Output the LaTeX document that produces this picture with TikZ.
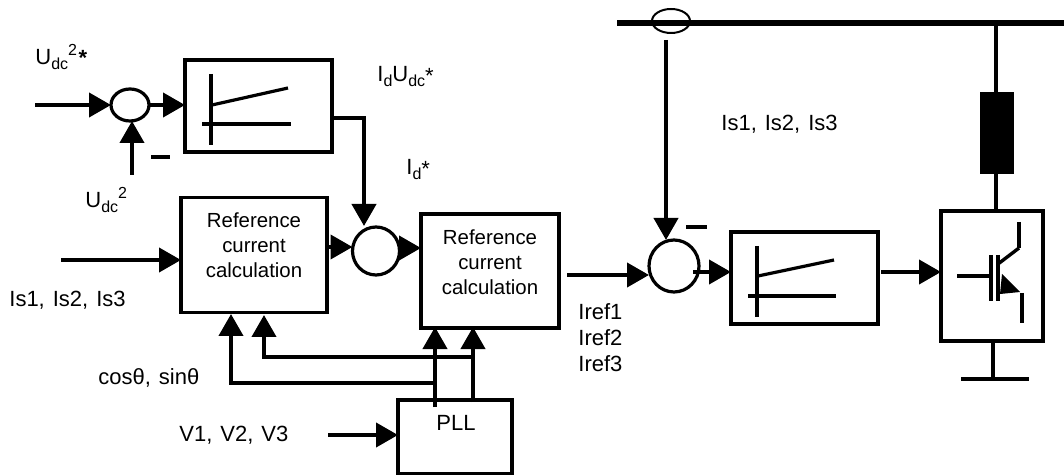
\documentclass[tikz,border=0pt]{standalone}
\usepackage{fontspec}
\setmainfont{Liberation Sans}
\usepackage{tikz}
\usetikzlibrary{arrows.meta, shapes.geometric}
\newcommand{\labfont}{\fontsize{11}{13}\selectfont\spaceskip=4pt\relax}
\tikzset{
	sig/.style={line width=2pt, -{Triangle[length=11pt, width=12pt]}},
	wire/.style={line width=2pt},
	block/.style={draw, line width=1.7pt, rectangle, inner sep=0pt, outer sep=0pt},
	sumnode/.style={draw, line width=1.6pt, ellipse, inner sep=0pt, outer sep=0pt},
	lab/.style={font=\labfont, inner sep=0pt, anchor=west},
	boxlab/.style={font=\fontsize{10.2}{12.4}\selectfont, inner sep=0pt, align=center}
}
\newcommand{\dcsub}{\raisebox{-2.5pt}{\fontsize{8}{9}\selectfont dc}}
\newcommand{\dsub}{\raisebox{-2.5pt}{\fontsize{8}{9}\selectfont d}}
\newcommand{\upidx}[1]{\raisebox{4.5pt}{\fontsize{8}{9}\selectfont #1}}
\begin{document}
\begin{tikzpicture}[x=0.5pt, y=-0.5pt]
	\useasboundingbox (0,0) rectangle (1064,475);
	% --- outer loop blocks ---
	\node[sumnode, minimum width=19pt, minimum height=16pt] (sumdc) at (130,105) {};
	\node[block, minimum width=73.5pt, minimum height=46pt] (pidc) at (258.5,106) {};
	\node[block, minimum width=73pt, minimum height=57.5pt] (refa) at (254,255) {};
	\node[boxlab] (refatxt) at (254,245) {Reference\\current\\calculation};
	\node[sumnode, minimum width=23.5pt, minimum height=24pt] (sumid) at (376,251) {};
	\node[block, minimum width=69pt, minimum height=57pt] (refb) at (490,271) {};
	\node[boxlab] (refbtxt) at (490,262) {Reference\\current\\calculation};
	\node[block, minimum width=57pt, minimum height=37pt] (pll) at (455,437) {};
	\node[boxlab, font=\fontsize{11}{13}\selectfont] (plltxt) at (456,423) {PLL};
	
	% --- inner loop blocks ---
	\node[sumnode, minimum width=25pt, minimum height=26pt] (sumi) at (674,266) {};
	\node[block, minimum width=73.5pt, minimum height=46pt] (pii) at (804.5,278) {};
	\node[block, minimum width=51pt, minimum height=65pt] (igbt) at (992,276) {};
	\node[sumnode, line width=1pt, minimum width=19pt, minimum height=12pt] (ct) at (671,21) {};
	
	% --- free ends ---
	\coordinate (dcin) at (35,105);
	\coordinate (dcfb) at (132,175);
	\coordinate (isin) at (61,260);
	\coordinate (vin) at (328,435);
	\coordinate (irefin) at (567,275);
	\coordinate (busl) at (617,23);
	\coordinate (busr) at (1064,23);
	\coordinate (ctout) at (666,40);
	\coordinate (gnd) at (993,379);
	
	% --- connectors ---
	\draw[sig] (dcin) -- (sumdc.west);
	\draw[sig] (sumdc.east) -- (pidc.west |- sumdc.east);
	\draw[sig] (dcfb) -- (dcfb |- sumdc.south);
	\draw[sig] (pidc.east |- 0,118) -| (364,226);
	\draw[sig] (isin) -- (refa.west |- isin);
	\draw[sig] (refa.east |- 0,247) -- (sumid.west |- 0,247);
	\draw[sig] (sumid.east |- 0,248) -- (refb.west |- 0,248);
	\draw[sig] (435,407) -- (435,327);
	\draw[sig] (473,402) -- (473,327);
	\draw[sig] (473,357) -| (264,315);
	\draw[sig] (435,383) -| (231,314);
	\draw[sig] (vin) -- (pll.west |- vin);
	\draw[sig] (irefin) -- (sumi.west |- irefin);
	\draw[sig] (693,272) -- (pii.west |- 0,272);
	\draw[sig] (881,272) -- (igbt.west |- 0,272);
	\draw[sig] (ctout) -- (ctout |- sumi.north);
	
	% minus signs
	\draw[wire] (151,157) -- (170,157);
	\draw[wire] (686,227) -- (707,227);
	
	% --- controller characteristics ---
	\draw[wire] (211,74) -- (211,145);
	\draw[wire] (202,124) -- (291,124);
	\draw[line width=1.6pt] (212,105) -- (288,88);
	\draw[wire] (757,246) -- (757,317);
	\draw[wire] (748,296) -- (836,296);
	\draw[line width=1.6pt] (758,276) -- (834,260);
	
	% --- bus and filter ---
	\draw[line width=2.8pt] (busl) -- (busr);
	\draw[wire] (996,23) -- (igbt.north -| 996,0);
	\draw[fill=black] (980,92) rectangle (1013,173);
	\draw[wire] (igbt.south -| gnd) -- (gnd);
	\draw[wire] (961,379) -- (1029,379);
	
	% --- IGBT ---
	\draw[wire] (957,276) -- (990,276);
	\draw[wire] (991,255) -- (991,301);
	\draw[wire] (998,255) -- (998,301);
	\draw[line width=1.7pt] (998,264) -- (1019,248);
	\draw[wire] (1019,222) -- (1019,248);
	\draw[line width=1.6pt] (1022,293) -- (1022,323);
	\fill (1002,274) -- (1020,292) -- (1000,294) -- cycle;
	
	% --- labels ---
	\node[lab] (lbdcref) at (35,57) {U\dcsub\upidx{2}\kern0.8pt\raisebox{-0.5pt}{\textbf{*}}};
	\node[lab] (lbdc) at (85,200) {U\dcsub\upidx{2}};
	\node[lab] (lbidu) at (377,77) {I\dsub U\dcsub\raisebox{-1pt}{*}};
	\node[lab] (lbid) at (406,170) {I\dsub\raisebox{-1pt}{*}};
	\node[lab] (lbis) at (9,300) {Is1, Is2, Is3};
	\node[lab] (lbcos) at (98,378) {cosθ, sinθ};
	\node[lab] (lbv) at (179,435) {V1, V2, V3};
	\node[lab] (lbira) at (578,312) {Iref1};
	\node[lab] (lbirb) at (578,338) {Iref2};
	\node[lab] (lbirc) at (578,364) {Iref3};
	\node[lab] (lbisb) at (721,124) {Is1, Is2, Is3};
\end{tikzpicture}
\end{document}
